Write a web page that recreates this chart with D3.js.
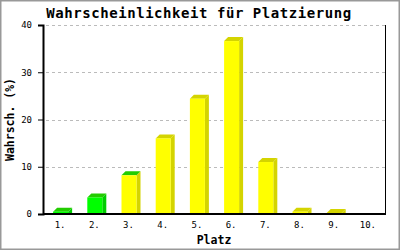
<!DOCTYPE html>
<html>
<head>
<meta charset="utf-8">
<script src="https://cdn.jsdelivr.net/npm/d3@7"></script>
<style>
  body { margin: 0; background: #fff; }
  svg { display: block; }
  text { font-family: "DejaVu Sans Mono", "Liberation Mono", monospace; }
</style>
</head>
<body>
<div id="chart"></div>
<script>
// Daten
var plaetze = ["1.", "2.", "3.", "4.", "5.", "6.", "7.", "8.", "9.", "10."];
var wahrsch = [0.5, 3.5, 8.2, 16.0, 24.4, 36.6, 11.0, 0.5, 0.2, 0];
var yTicks = [0, 10, 20, 30, 40];

var width = 400, height = 250;
var margin = {top: 25, right: 15, bottom: 36, left: 43};
var depth = 4, barW = 15;

var svg = d3.select("#chart").append("svg")
    .attr("width", width)
    .attr("height", height);

svg.append("rect")
    .attr("x", 0.5).attr("y", 0.5)
    .attr("width", width - 1).attr("height", height - 1)
    .attr("fill", "#fff")
    .attr("stroke", "#999")
    .attr("stroke-width", 2);

var x = d3.scaleBand()
    .domain(plaetze)
    .range([margin.left, width - margin.right]);

var y = d3.scaleLinear()
    .domain([0, 40])
    .range([height - margin.bottom, margin.top]);

// gitter
svg.append("g")
  .selectAll("line")
  .data(yTicks.slice(1))
  .enter().append("line")
    .attr("x1", margin.left + 3)
    .attr("x2", width - margin.right)
    .attr("y1", function(d) { return Math.round(y(d)) + 0.5; })
    .attr("y2", function(d) { return Math.round(y(d)) + 0.5; })
    .attr("stroke", "#bbb")
    .attr("stroke-dasharray", "3,3");

// farben
function frontCol(i) { return i < 2 ? "#00ff00" : "#ffff00"; }
function sideCol(i) { return i < 2 ? "#00cc00" : "#d4d400"; }
function topCol(i) { return i < 3 ? "#22cc00" : "#d4d400"; }

var base = y(0);
var data = plaetze.map(function(p, i) { return {platz: p, wert: wahrsch[i], i: i}; })
    .filter(function(d) { return d.wert > 0; });

function bx(d) { return x(d.platz) + x.bandwidth() / 2 - 7; }

var bars = svg.append("g")
  .selectAll("g")
  .data(data)
  .enter().append("g");

bars.append("path")
    .attr("fill", function(d) { return sideCol(d.i); })
    .attr("d", function(d) {
      var x0 = bx(d) + barW, y0 = y(d.wert);
      return "M" + x0 + "," + y0 + "L" + (x0 + depth) + "," + (y0 - depth) +
             "L" + (x0 + depth) + "," + base + "L" + x0 + "," + base + "Z";
    });

bars.append("path")
    .attr("fill", function(d) { return topCol(d.i); })
    .attr("d", function(d) {
      var x0 = bx(d), y0 = y(d.wert);
      return "M" + x0 + "," + y0 + "L" + (x0 + barW) + "," + y0 +
             "L" + (x0 + barW + depth) + "," + (y0 - depth) + "L" + (x0 + depth) + "," + (y0 - depth) + "Z";
    });

bars.append("rect")
    .attr("fill", function(d) { return frontCol(d.i); })
    .attr("x", bx)
    .attr("y", function(d) { return y(d.wert); })
    .attr("width", barW)
    .attr("height", function(d) { return base - y(d.wert); });

// achsen
svg.append("line")
    .attr("x1", width - margin.right + 0.5).attr("x2", width - margin.right + 0.5)
    .attr("y1", margin.top).attr("y2", base)
    .attr("stroke", "#000");

var yAxis = svg.append("g")
    .attr("transform", "translate(" + margin.left + ",0)")
    .call(d3.axisLeft(y).tickValues(yTicks).tickSize(5).tickPadding(6));
yAxis.select(".domain").attr("stroke-width", 2);
yAxis.selectAll("text").attr("font-size", 9).attr("fill", "#000");

var xAxis = svg.append("g")
    .attr("transform", "translate(0," + base + ")")
    .call(d3.axisBottom(x).tickSize(0).tickPadding(8));
xAxis.select(".domain").attr("stroke-width", 2).attr("d", "M" + margin.left + ",0H" + (width - margin.right + 1));
xAxis.selectAll("text").attr("font-size", 9).attr("fill", "#000");

// titel
svg.append("text")
    .attr("x", 199).attr("y", 18)
    .attr("text-anchor", "middle")
    .attr("font-size", 14)
    .attr("font-weight", "bold")
    .attr("letter-spacing", "0.55px")
    .text("Wahrscheinlichkeit für Platzierung");

svg.append("text")
    .attr("x", (margin.left + width - margin.right) / 2).attr("y", 244)
    .attr("text-anchor", "middle")
    .attr("font-size", 11.5)
    .attr("font-weight", "bold")
    .text("Platz");

svg.append("text")
    .attr("transform", "translate(14," + ((margin.top + base) / 2) + ")rotate(-90)")
    .attr("text-anchor", "middle")
    .attr("font-size", 11.5)
    .attr("font-weight", "bold")
    .text("Wahrsch. (%)");
</script>
</body>
</html>
